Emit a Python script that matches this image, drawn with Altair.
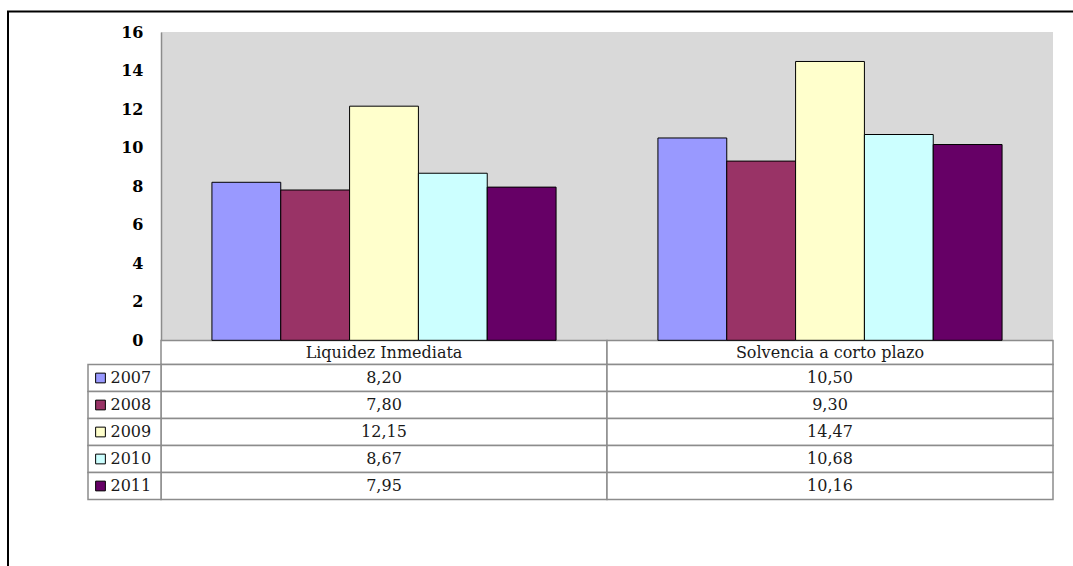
import altair as alt
import pandas as pd

categories = ["Liquidez Inmediata", "Solvencia a corto plazo"]
years = ["2007", "2008", "2009", "2010", "2011"]
liquidez = [8.20, 7.80, 12.15, 8.67, 7.95]
solvencia = [10.50, 9.30, 14.47, 10.68, 10.16]
colors = ["#9999FF", "#993366", "#FFFFCC", "#CCFFFF", "#660066"]
y_ticks = [0, 2, 4, 6, 8, 10, 12, 14, 16]

FONT = "DejaVu Serif"
GRID = "#8c8c8c"
TXT = "#1a1a1a"

rows = []
for cat, vals in zip(categories, [liquidez, solvencia]):
    for yr, v in zip(years, vals):
        rows.append({"category": cat, "year": yr, "value": v,
                     "row": yr, "label": f"{v:.2f}".replace(".", ",")})
df = pd.DataFrame(rows)

header_df = pd.DataFrame({"category": categories, "row": ["cat"] * len(categories),
                          "label": categories})
year_df = pd.DataFrame({"year": years, "row": years})
one_df = pd.DataFrame({"a": [0]})

xscale = alt.Scale(type="band", domain=categories, paddingInner=0, paddingOuter=0)
head_scale = alt.Scale(type="band", domain=["cat"], range=[308.5, 332.5],
                       paddingInner=0, paddingOuter=0)
row_scale = alt.Scale(type="band", domain=years, range=[332.5, 467.5],
                      paddingInner=0, paddingOuter=0)
color_scale = alt.Scale(domain=years, range=colors)

border = alt.Chart(one_df).mark_rect(fillOpacity=0, stroke="black", strokeWidth=2).encode(
    x=alt.value(-153), y=alt.value(-20.5), x2=alt.value(940), y2=alt.value(560)
)


def cell_layers(data, scale):
    rect = alt.Chart(data).mark_rect(fill="white", stroke=GRID, strokeWidth=1.5).encode(
        x=alt.X("category:N", scale=xscale, axis=None),
        y=alt.Y("row:N", scale=scale, axis=None),
    )
    txt = alt.Chart(data).mark_text(font=FONT, fontSize=16, color=TXT,
                                    baseline="middle", align="center").encode(
        x=alt.X("category:N", scale=xscale, axis=None),
        y=alt.Y("row:N", scale=scale, axis=None),
        text="label:N",
    )
    return rect, txt


head_rect, head_text = cell_layers(header_df, head_scale)
val_rect, val_text = cell_layers(df[["category", "row", "label"]], row_scale)

legend_cells = alt.Chart(year_df).mark_rect(fill="white", stroke=GRID, strokeWidth=1.5).encode(
    x=alt.value(-73), x2=alt.value(0),
    y=alt.Y("row:N", scale=row_scale, axis=None),
)

legend_text = alt.Chart(year_df).mark_text(font=FONT, fontSize=16, color=TXT,
                                           baseline="middle", align="left").encode(
    x=alt.value(-50.5),
    y=alt.Y("row:N", scale=row_scale, axis=None),
    text="year:N",
)

swatches = alt.Chart(year_df).mark_square(size=95, opacity=1, stroke="black",
                                          strokeWidth=1).encode(
    x=alt.value(-60.5),
    y=alt.Y("row:N", scale=row_scale, axis=None),
    color=alt.Color("year:N", scale=color_scale, legend=None),
)

bars = alt.Chart(df).mark_bar(stroke="black", strokeWidth=1).encode(
    x=alt.X("category:N", scale=xscale, axis=None),
    xOffset=alt.XOffset("year:N", scale=alt.Scale(domain=years, paddingOuter=0.74,
                                                   paddingInner=0)),
    y=alt.Y("value:Q", scale=alt.Scale(domain=[0, 16], range=[308.3, 0]),
            axis=alt.Axis(values=y_ticks, title=None, ticks=False, labelPadding=18,
                          labelFont=FONT, labelFontSize=16, labelFontWeight="bold",
                          labelColor="black", domainColor=GRID, domainWidth=1.5,
                          gridColor=GRID, gridWidth=1.5)),
    color=alt.Color("year:N", scale=color_scale, legend=None),
)

chart = alt.layer(
    border, head_rect, val_rect, legend_cells, head_text, val_text, legend_text,
    swatches, bars
).resolve_scale(y="independent").properties(
    width=892, height=468,
    autosize=alt.AutoSizeParams(type="none"),
    padding={"left": 161, "top": 32, "right": 20, "bottom": 66},
    background="white",
).configure_view(fill="#d9d9d9", strokeWidth=0)

chart.save("out.html", embed_options={"renderer": "svg", "actions": False})
